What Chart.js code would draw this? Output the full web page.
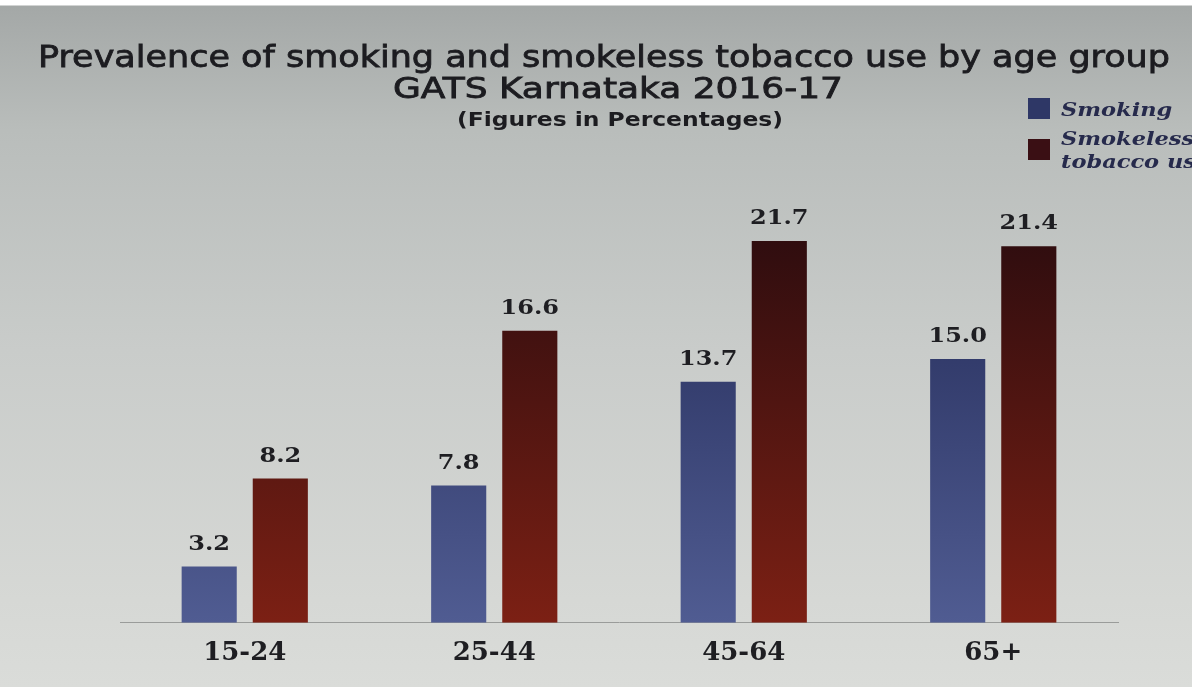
<!DOCTYPE html>
<html>
<head>
<meta charset="utf-8">
<script src="https://cdn.jsdelivr.net/npm/chart.js@4.4.1/dist/chart.umd.min.js"></script>
<style>
  html, body { margin: 0; padding: 0; }
  body {
    width: 1192px; height: 687px; overflow: hidden;
    background: linear-gradient(to bottom, #ffffff 0px, #ffffff 5px, #a4a8a7 6px, #b9bdbb 130px, #c9ccca 350px, #d6d8d5 600px, #dadcd9 687px);
  }
  #wrap { position: relative; width: 1192px; height: 687px; }
</style>
</head>
<body>
<div id="wrap"><canvas id="c"></canvas></div>
<script>
const titleLines = ["Prevalence of smoking and smokeless tobacco use by age group", "GATS Karnataka 2016-17", "(Figures in Percentages)"];
const categories = ["15-24", "25-44", "45-64", "65+"];
const seriesNames = ["Smoking", "Smokeless tobacco use"];
const smoking = [3.2, 7.8, 13.7, 15.0];
const smokeless = [8.2, 16.6, 21.7, 21.4];

function grad(top, bottom) {
  return function(ctx) {
    const chart = ctx.chart;
    const area = chart.chartArea;
    if (!area) return bottom;
    const g = chart.ctx.createLinearGradient(0, area.top, 0, area.bottom);
    g.addColorStop(0, top);
    g.addColorStop(1, bottom);
    return g;
  };
}
const solidColors = ["#2e3766", "#3a0f14"];

// draw text stretched horizontally to a target width, centred at cx
function fitText(c, text, cx, cy, width, stroke) {
  const w = c.measureText(text).width;
  const s = width / w;
  c.save();
  c.translate(cx, cy);
  c.scale(s, 1);
  c.fillText(text, 0, 0);
  if (stroke) { c.lineWidth = stroke; c.strokeText(text, 0, 0); }
  c.restore();
}
function stretchText(c, text, x, y, s) {
  c.save();
  c.translate(x, y);
  c.scale(s, 1);
  c.fillText(text, 0, 0);
  c.restore();
}

const titlePlugin = {
  id: 'customTitle',
  afterDraw(chart) {
    const c = chart.ctx;
    c.save();
    c.textAlign = 'center';
    c.textBaseline = 'middle';
    c.fillStyle = '#1c1c20';
    c.strokeStyle = '#1c1c20';
    c.font = '30px "DejaVu Sans"';
    fitText(c, titleLines[0], 604, 59, 1132, 0.8);
    c.font = '28px "DejaVu Sans"';
    fitText(c, titleLines[1], 618, 91, 450, 0.8);
    c.font = 'bold 19px "DejaVu Sans"';
    fitText(c, titleLines[2], 620, 121, 326);
    c.restore();
  }
};

const legendPlugin = {
  id: 'customLegend',
  afterDraw(chart) {
    const c = chart.ctx;
    c.save();
    c.textAlign = 'left';
    c.textBaseline = 'middle';
    c.font = 'italic bold 18px "DejaVu Serif"';
    const items = [
      { lines: ["Smoking"], y: 108 },
      { lines: ["Smokeless", "tobacco use"], y: 149 }
    ];
    items.forEach((it, i) => {
      c.fillStyle = solidColors[i];
      c.fillRect(1028, it.y - 10, 22, 21);
      c.fillStyle = '#262a4c';
      it.lines.forEach((ln, j) => stretchText(c, ln, 1061, it.y + 3 + (j - (it.lines.length - 1) / 2) * 23, 1.25));
    });
    c.restore();
  }
};

const valueLabels = {
  id: 'valueLabels',
  afterDatasetsDraw(chart) {
    const c = chart.ctx;
    c.save();
    c.textAlign = 'center';
    c.textBaseline = 'alphabetic';
    c.fillStyle = '#1e1e22';
    c.font = 'bold 20px "DejaVu Serif"';
    chart.data.datasets.forEach((ds, i) => {
      chart.getDatasetMeta(i).data.forEach((bar, j) => {
        stretchText(c, ds.data[j].toFixed(1), bar.x, bar.y - 17, 1.2);
      });
    });
    c.restore();
  }
};

new Chart(document.getElementById('c'), {
  type: 'bar',
  data: {
    labels: categories,
    datasets: [
      { label: seriesNames[0], data: smoking, backgroundColor: grad('#1f2652', '#505c92'), categoryPercentage: 0.57, barPercentage: 0.775 },
      { label: seriesNames[1], data: smokeless, backgroundColor: grad('#240a0e', '#7c2014'), categoryPercentage: 0.57, barPercentage: 0.775 }
    ]
  },
  options: {
    responsive: true,
    maintainAspectRatio: false,
    animation: false,
    layout: { padding: { top: 183, left: 120, right: 74, bottom: 3 } },
    plugins: {
      legend: { display: false },
      title: { display: false },
      tooltip: { enabled: false }
    },
    scales: {
      x: {
        grid: { display: false, drawTicks: false },
        border: { display: true, color: '#9a9c9a', width: 1 },
        ticks: { color: '#1e1e22', font: { family: '"DejaVu Serif"', size: 26, weight: 'bold' }, padding: 15 }
      },
      y: {
        display: false,
        min: 0,
        max: 25
      }
    }
  },
  plugins: [titlePlugin, legendPlugin, valueLabels]
});
</script>
</body>
</html>
